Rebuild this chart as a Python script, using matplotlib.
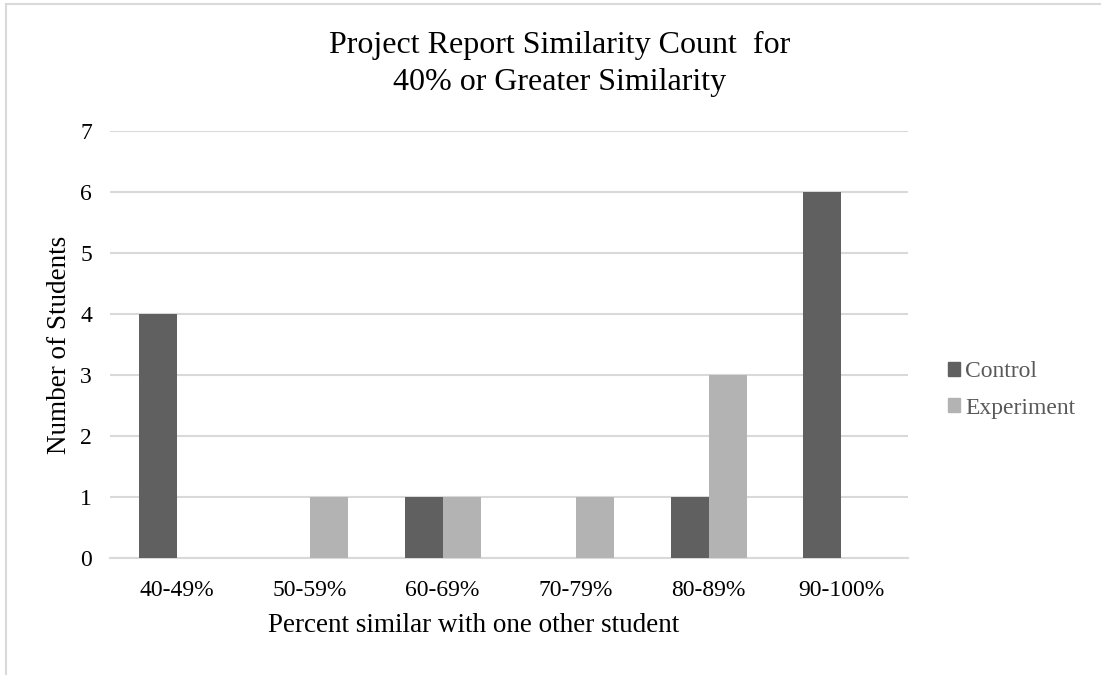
import matplotlib
matplotlib.use("Agg")
import matplotlib.pyplot as plt
from matplotlib.patches import Patch
from matplotlib.lines import Line2D
import numpy as np

categories = ["40-49%", "50-59%", "60-69%", "70-79%", "80-89%", "90-100%"]
control = [4, 0, 1, 0, 1, 6]
experiment = [0, 1, 1, 1, 3, 0]
series_names = ["Control", "Experiment"]
title_lines = ["Project Report Similarity Count  for", "40% or Greater Similarity"]

plt.rcParams["font.family"] = ["Liberation Serif", "DejaVu Serif"]

W, H = 1102, 675
fig = plt.figure(figsize=(W / 100, H / 100), dpi=100)
ax = fig.add_axes([110 / W, 1 - 558 / H, (908 - 110) / W, (558 - 131) / H])

x = np.arange(len(categories))
w = 1 / 3.5
c_dark = "#606060"
c_light = "#b3b3b3"
ax.bar(x - w / 2, control, w, color=c_dark, label=series_names[0], zorder=3)
ax.bar(x + w / 2, experiment, w, color=c_light, label=series_names[1], zorder=3)

ax.set_xlim(-0.5, len(categories) - 0.5)
ax.set_ylim(0, 7)
ax.set_yticks(range(0, 8))
ax.set_xticks(x)
ax.set_xticklabels(categories)
ax.yaxis.grid(True, color="#d9d9d9", linewidth=1.5, zorder=0)
ax.set_axisbelow(True)
for s in ["top", "right", "left"]:
    ax.spines[s].set_visible(False)
ax.spines["bottom"].set_color("#d9d9d9")
ax.spines["bottom"].set_linewidth(1.5)
ax.tick_params(axis="both", length=0, labelsize=17, colors="black")
ax.tick_params(axis="x", pad=15.5)
ax.tick_params(axis="y", pad=13)

ax.set_xlabel("Percent similar with one other student", fontsize=19.5, labelpad=9, x=0.456)
ax.set_ylabel("Number of Students", fontsize=19.5, labelpad=6)

# two-line chart title, placed by baseline
tx = 560 / W
fig.text(tx, 1 - 53 / H, title_lines[0], ha="center", va="baseline", fontsize=23)
fig.text(tx, 1 - 90 / H, title_lines[1], ha="center", va="baseline", fontsize=23)

handles = [Patch(color=c_dark), Patch(color=c_light)]
fig.legend(handles, series_names, loc="center left", bbox_to_anchor=(948 / W, 1 - 390 / H),
           frameon=False, fontsize=17, handlelength=0.52, handleheight=0.52,
           handletextpad=0.22, labelspacing=0.65, borderpad=0, borderaxespad=0,
           labelcolor="#595959")

# chart frame
fig.add_artist(Line2D([6 / W, 6 / W], [0.0, 1 - 4 / H], transform=fig.transFigure,
                      color="#d9d9d9", linewidth=1.5))
fig.add_artist(Line2D([6 / W, 1100 / W], [1 - 4 / H, 1 - 4 / H], transform=fig.transFigure,
                      color="#d9d9d9", linewidth=1.5))

fig.savefig("out.png", dpi=100)
